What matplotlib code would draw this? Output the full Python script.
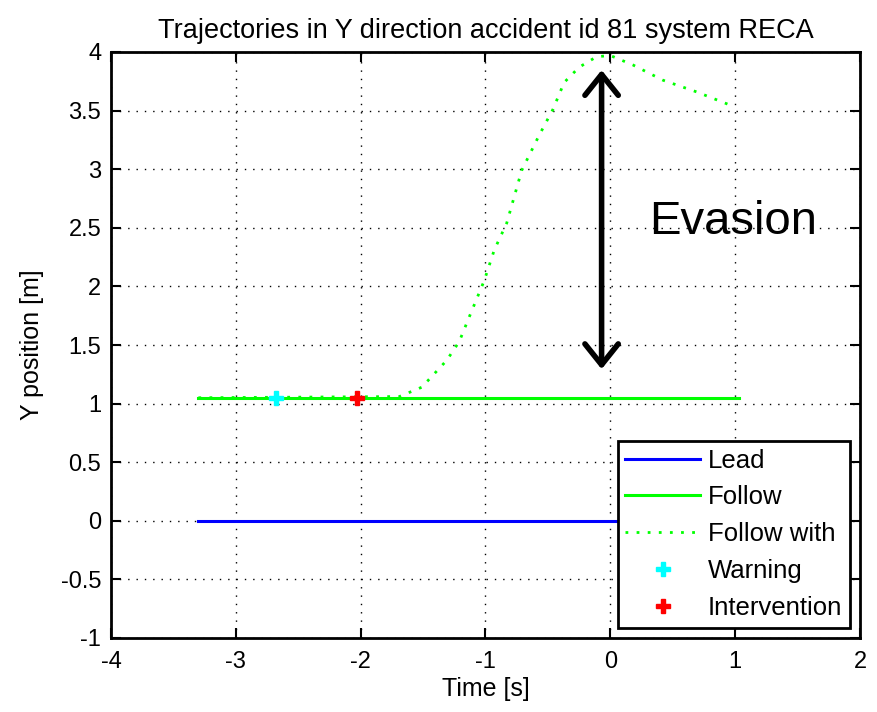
import matplotlib.pyplot as plt

plt.rcParams['font.family'] = ['Liberation Sans', 'DejaVu Sans']
plt.rcParams['axes.unicode_minus'] = False

# Lead and follow trajectories (straight lines)
lead_t = [-3.3, 1.03]
lead_y = [0.0, 0.0]
follow_t = [-3.3, 1.03]
follow_y = [1.05, 1.05]

# Follow with system (evasive manoeuvre)
evade_t = [-3.3, -1.69, -1.51, -1.31, -1.21, -1.13, -1.01, -0.93, -0.83, -0.71,
           -0.57, -0.46, -0.37, -0.25, -0.11, 0.0, 0.18, 0.42, 0.69, 1.0]
evade_y = [1.05, 1.06, 1.14, 1.37, 1.53, 1.74, 2.05, 2.31, 2.54, 2.99,
           3.29, 3.51, 3.74, 3.87, 3.96, 3.97, 3.89, 3.76, 3.66, 3.53]

warning_t, warning_y = -2.68, 1.05
interv_t, interv_y = -2.03, 1.05

xticks = [-4, -3, -2, -1, 0, 1, 2]
yticks = [-1, -0.5, 0, 0.5, 1, 1.5, 2, 2.5, 3, 3.5, 4]
ytick_labels = ['-1', '-0.5', '0', '0.5', '1', '1.5', '2', '2.5', '3', '3.5', '4']

fig = plt.figure(figsize=(8.78, 7.12), dpi=100)
ax = fig.add_axes([111 / 878, 74 / 712, 749 / 878, 586 / 712])

ax.plot(lead_t, lead_y, color='#0000ff', lw=2.2, label='Lead')
ax.plot(follow_t, follow_y, color='#00ff00', lw=2.2, label='Follow')
ax.plot(evade_t, evade_y, color='#00ff00', lw=2, ls=(0, (1, 3)), label='Follow with')
ax.plot(warning_t, warning_y, 'P', color='#00ffff', ms=10, ls='none', label='Warning')
ax.plot(interv_t, interv_y, 'P', color='#ff0000', ms=10, ls='none', label='Intervention')

ax.annotate('', xy=(-0.07, 3.87), xytext=(-0.07, 1.27),
            arrowprops=dict(arrowstyle='<->, head_length=0.5, head_width=0.4',
                            color='black', lw=4, mutation_scale=30))
ax.text(0.98, 2.55, 'Evasion', fontsize=34, ha='center', va='center')

ax.set_xlim(-4, 2)
ax.set_ylim(-1, 4)
ax.set_xticks(xticks)
ax.set_yticks(yticks)
ax.set_yticklabels(ytick_labels)
ax.grid(True, color='black', ls=(0, (1, 5)), lw=1)
ax.tick_params(direction='in', top=True, right=True, length=7, width=1.5, labelsize=17)
ax.tick_params(axis='x', pad=9)
ax.tick_params(axis='y', pad=7)
for s in ax.spines.values():
    s.set_linewidth(2)

ax.set_title('Trajectories in Y direction accident id 81 system RECA', fontsize=19.5, pad=10)
ax.set_xlabel('Time [s]', fontsize=18, labelpad=3)
ax.set_ylabel('Y position [m]', fontsize=18, labelpad=12)

leg = ax.legend(loc='lower right', fontsize=18.5, frameon=True, fancybox=False,
                edgecolor='black', borderaxespad=0.4, handlelength=2.9,
                handletextpad=0.3, labelspacing=0.5, borderpad=0.3)
leg.get_frame().set_linewidth(2)
leg.get_frame().set_alpha(1)

fig.savefig('out.png', dpi=100)
